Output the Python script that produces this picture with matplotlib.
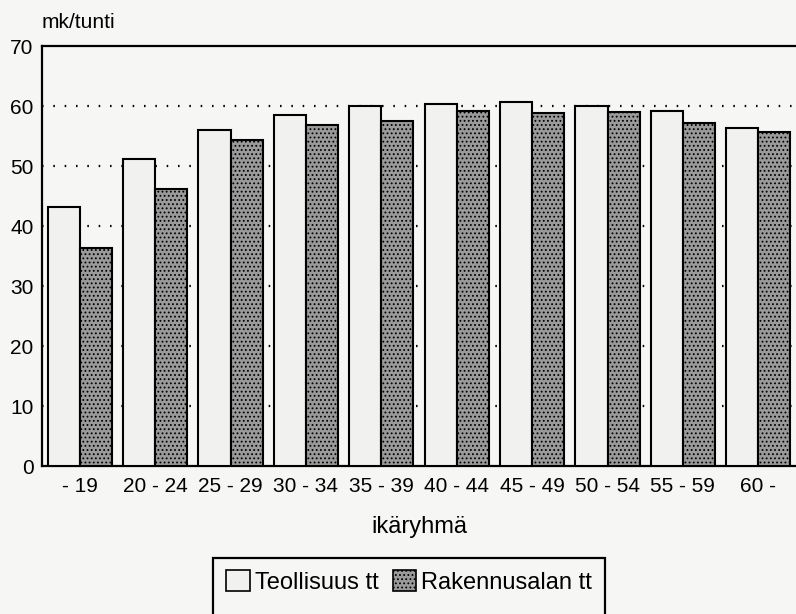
import numpy as np
import matplotlib
matplotlib.use('Agg')
from matplotlib import pyplot as plt
from matplotlib.patches import Rectangle, Patch

### data
groups = ['- 19', '20 - 24', '25 - 29', '30 - 34', '35 - 39',
          '40 - 44', '45 - 49', '50 - 54', '55 - 59', '60 -']
teollisuus = [43.1, 51.2, 56.0, 58.5, 60.0, 60.4, 60.7, 60.0, 59.1, 56.4]
rakennus = [36.4, 46.2, 54.3, 56.8, 57.5, 59.2, 58.8, 59.0, 57.2, 55.7]
yticks = [0, 10, 20, 30, 40, 50, 60, 70]

plt.rcParams['font.family'] = ['Liberation Sans', 'DejaVu Sans']
plt.rcParams['hatch.color'] = '#787878'
plt.rcParams['hatch.linewidth'] = 0.8

bg = '#f6f6f4'
light = '#f1f1ef'
dark = '#9a9a9a'
fig = plt.figure(figsize=(7.96, 6.14), dpi=100, facecolor=bg)
ax = fig.add_axes([42/796, 1-466/614, 1-42/796, (466-46)/614], facecolor=bg)

x = np.arange(len(groups))
w = 0.425
ax.bar(x - w/2, teollisuus, w, color=light, edgecolor='black', linewidth=1.5,
       zorder=3)
ax.bar(x + w/2, rakennus, w, color=dark, edgecolor='black', linewidth=1.5,
       hatch='....', zorder=3)

for yv in yticks[1:-1]:
    ax.axhline(yv, color='black', linewidth=1.6, linestyle=(0, (0.7, 4.4)), zorder=1)

ax.set_xlim(-0.5, 9.5)
ax.set_ylim(0, 70)
ax.set_yticks(yticks)
ax.set_xticks(x)
ax.set_xticklabels(groups)
ax.tick_params(axis='both', length=0, labelsize=15)
ax.tick_params(axis='y', pad=6)
ax.tick_params(axis='x', pad=8)
for s in ['left', 'top', 'bottom']:
    ax.spines[s].set_linewidth(1.6)
ax.spines['right'].set_visible(False)

fig.text(42/796, 1-22/614, 'mk/tunti', fontsize=15, ha='left', va='center')
ax.set_xlabel('ikäryhmä', fontsize=17, labelpad=14)

### legend
fig.patches.append(Rectangle((213/796, -0.05), (605-213)/796, (1-558/614)+0.05,
                             transform=fig.transFigure, fill=False,
                             edgecolor='black', linewidth=1.6))
handles = [Patch(facecolor=light, edgecolor='black', linewidth=1.2),
           Patch(facecolor=dark, edgecolor='black', linewidth=1.2, hatch='....')]
fig.legend(handles, ['Teollisuus tt', 'Rakennusalan tt'], loc='center',
           bbox_to_anchor=(409/796, 1-582/614), ncol=2, frameon=False,
           fontsize=17, handlelength=1.0, handleheight=1.0, handletextpad=0.2,
           columnspacing=0.6)

fig.savefig('out.png', dpi=100, facecolor=bg)
